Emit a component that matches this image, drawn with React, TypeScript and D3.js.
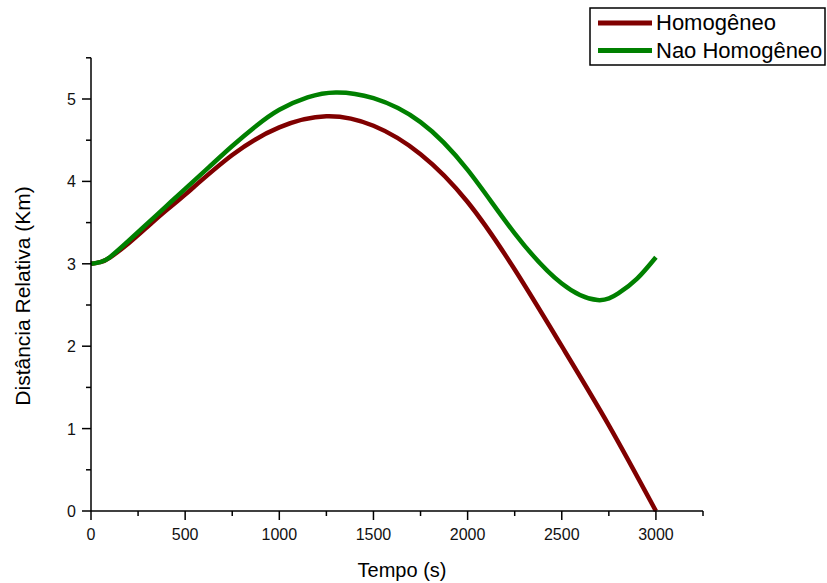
import React from "react";
import * as d3 from "d3";

// Time (s) and relative distance (km) for the homogeneous case
const tempoHomogeneo = [0, 50, 100, 200, 300, 400, 500, 750, 1000, 1250, 1500, 1750, 2000, 2250, 2500, 2750, 3000];
const distHomogeneo = [3.0, 3.02, 3.075, 3.25, 3.45, 3.65, 3.84, 4.32, 4.655, 4.79, 4.675, 4.33, 3.75, 2.93, 2.0, 1.04, 0.0];

// Time (s) and relative distance (km) for the non-homogeneous case
const tempoNaoHomogeneo = [0, 50, 100, 200, 300, 400, 500, 625, 750, 875, 1000, 1150, 1300, 1500, 1750, 2000, 2250, 2500, 2690, 2800, 2900, 3000];
const distNaoHomogeneo = [3.0, 3.02, 3.08, 3.28, 3.49, 3.7, 3.91, 4.17, 4.43, 4.67, 4.87, 5.02, 5.08, 5.01, 4.72, 4.14, 3.37, 2.76, 2.56, 2.64, 2.82, 3.08];

const xMajorTicks = [0, 500, 1000, 1500, 2000, 2500, 3000];
const xMinorTicks = [250, 750, 1250, 1750, 2250, 2750, 3250];
const yMajorTicks = [0, 1, 2, 3, 4, 5];
const yMinorTicks = [0.5, 1.5, 2.5, 3.5, 4.5, 5.5];

const seriesNames = ["Homogêneo", "Nao Homogêneo"];
const seriesColors = ["#800000", "#008000"];

const W = 827;
const H = 583;
const FONT = "'Liberation Sans', Arial, sans-serif";

export default function App() {
  const x = d3.scaleLinear().domain([0, 3250]).range([91, 703]);
  const y = d3.scaleLinear().domain([0, 5.5]).range([511, 57.8]);

  const line = d3
    .line<[number, number]>()
    .x((d) => x(d[0]))
    .y((d) => y(d[1]))
    .curve(d3.curveNatural);

  const series = [
    { t: tempoHomogeneo, v: distHomogeneo },
    { t: tempoNaoHomogeneo, v: distNaoHomogeneo },
  ];

  const x0 = x.range()[0];
  const y0 = y.range()[0];

  return (
    <svg
      width={W}
      height={H}
      style={{ position: "absolute", left: 0, top: 0, background: "#fff" }}
      fontFamily={FONT}
    >
      <rect width={W} height={H} fill="#fff" />

      {/* curves */}
      {series.map((s, i) => (
        <path
          key={i}
          d={line(s.t.map((t, j) => [t, s.v[j]] as [number, number])) || ""}
          fill="none"
          stroke={seriesColors[i]}
          strokeWidth={4.5}
        />
      ))}

      {/* axes */}
      <g stroke="#000" strokeWidth={1.5}>
        <line x1={x0} x2={x(3250)} y1={y0} y2={y0} />
        <line x1={x0} x2={x0} y1={y0} y2={y(5.5)} />
        {xMajorTicks.map((t) => (
          <line key={"xM" + t} x1={x(t)} x2={x(t)} y1={y0} y2={y0 + 9} />
        ))}
        {xMinorTicks.map((t) => (
          <line key={"xm" + t} x1={x(t)} x2={x(t)} y1={y0} y2={y0 + 5} />
        ))}
        {yMajorTicks.map((v) => (
          <line key={"yM" + v} x1={x0 - 9} x2={x0} y1={y(v)} y2={y(v)} />
        ))}
        {yMinorTicks.map((v) => (
          <line key={"ym" + v} x1={x0 - 5} x2={x0} y1={y(v)} y2={y(v)} />
        ))}
      </g>

      {xMajorTicks.map((t) => (
        <text key={"xl" + t} x={x(t)} y={540} fontSize={16} textAnchor="middle" fill="#111">
          {t}
        </text>
      ))}
      {yMajorTicks.map((v) => (
        <text key={"yl" + v} x={76} y={y(v) + 6} fontSize={16} textAnchor="end" fill="#111">
          {v}
        </text>
      ))}

      <text x={402} y={577} fontSize={20} textAnchor="middle" fill="#000">
        Tempo (s)
      </text>
      <text
        transform={`translate(30, 296) rotate(-90)`}
        fontSize={21}
        textAnchor="middle"
        fill="#000"
      >
        Distância Relativa (Km)
      </text>

      {/* legend */}
      <rect x={590} y={8} width={235} height={57} fill="#fff" stroke="#000" strokeWidth={1.5} />
      {seriesNames.map((name, i) => (
        <g key={name}>
          <line
            x1={598}
            x2={652}
            y1={23 + i * 27.5}
            y2={23 + i * 27.5}
            stroke={seriesColors[i]}
            strokeWidth={5}
          />
          <text x={656} y={30 + i * 27.5} fontSize={22} fill="#000">
            {name}
          </text>
        </g>
      ))}
    </svg>
  );
}
